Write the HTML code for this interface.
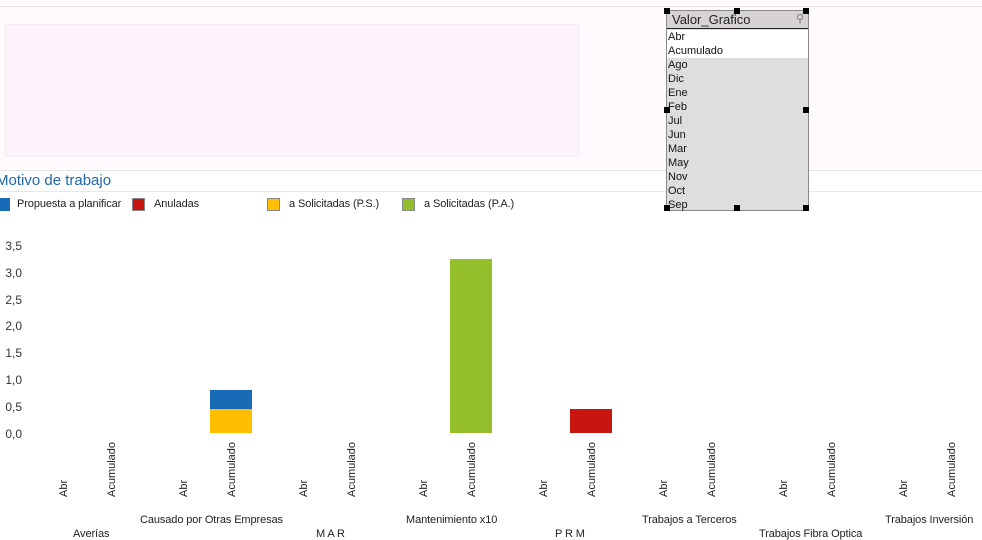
<!DOCTYPE html>
<html><head><meta charset="utf-8"><style>
body{margin:0;width:982px;height:537px;overflow:hidden;background:#fff;font-family:"Liberation Sans",Arial,sans-serif;position:relative}
.a{position:absolute}
.t{font-size:11px;color:#222;white-space:nowrap;letter-spacing:-0.1px}
.yl{font-size:12px;color:#333;width:22px;text-align:right;left:0}
.rot{transform:rotate(-90deg);transform-origin:left top;font-size:11px;color:#222;white-space:nowrap}
.lb div{height:14px;line-height:14px;font-size:11px;padding-left:1px;color:#111}
.h{width:6px;height:6px;background:#000}
</style></head><body>
<div class="a" style="left:0;top:0;width:982px;height:170px;background:#fffafd"></div>
<div class="a" style="left:0;top:6px;width:982px;height:1px;background:#e8e4e8"></div>
<div class="a" style="left:5px;top:24px;width:572px;height:131px;background:#fdf3fb;border:1px solid #f6eaf4"></div>
<div class="a" style="left:0;top:170px;width:982px;height:1px;background:#e4e4e4"></div>
<div class="a" style="left:0;top:191px;width:982px;height:1px;background:#e8e8e8"></div>
<div class="a" style="left:-4px;top:172px;font-size:15px;color:#1f66a8">Motivo de trabajo</div>
<div class="a" style="left:0;top:198px;width:10px;height:13px;background:#1a6bb5"></div>
<div class="a t" style="left:17px;top:198px">Propuesta a planificar</div>
<div class="a" style="left:132px;top:198px;width:13px;height:13px;background:#c8150f;box-sizing:border-box;border:1px solid #888"></div>
<div class="a t" style="left:154px;top:198px">Anuladas</div>
<div class="a" style="left:267px;top:198px;width:13px;height:13px;background:#ffbf00;box-sizing:border-box;border:1px solid #888"></div>
<div class="a t" style="left:289px;top:198px">a Solicitadas (P.S.)</div>
<div class="a" style="left:402px;top:198px;width:13px;height:13px;background:#94bf2a;box-sizing:border-box;border:1px solid #888"></div>
<div class="a t" style="left:424px;top:198px">a Solicitadas (P.A.)</div>

<div class="a yl" style="top:239px">3,5</div>
<div class="a yl" style="top:266px">3,0</div>
<div class="a yl" style="top:293px">2,5</div>
<div class="a yl" style="top:319px">2,0</div>
<div class="a yl" style="top:346px">1,5</div>
<div class="a yl" style="top:373px">1,0</div>
<div class="a yl" style="top:400px">0,5</div>
<div class="a yl" style="top:427px">0,0</div>

<div class="a" style="left:210px;top:390px;width:42px;height:19px;background:#1a6bb5"></div>
<div class="a" style="left:210px;top:409px;width:42px;height:24px;background:#ffbf00"></div>
<div class="a" style="left:450px;top:259px;width:42px;height:174px;background:#94bf2a"></div>
<div class="a" style="left:570px;top:409px;width:42px;height:24px;background:#c8150f"></div>

<div class="a rot" style="left:58px;top:497px">Abr</div><div class="a rot" style="left:106px;top:497px">Acumulado</div>
<div class="a rot" style="left:178px;top:497px">Abr</div><div class="a rot" style="left:226px;top:497px">Acumulado</div>
<div class="a rot" style="left:298px;top:497px">Abr</div><div class="a rot" style="left:346px;top:497px">Acumulado</div>
<div class="a rot" style="left:418px;top:497px">Abr</div><div class="a rot" style="left:466px;top:497px">Acumulado</div>
<div class="a rot" style="left:538px;top:497px">Abr</div><div class="a rot" style="left:586px;top:497px">Acumulado</div>
<div class="a rot" style="left:658px;top:497px">Abr</div><div class="a rot" style="left:706px;top:497px">Acumulado</div>
<div class="a rot" style="left:778px;top:497px">Abr</div><div class="a rot" style="left:826px;top:497px">Acumulado</div>
<div class="a rot" style="left:898px;top:497px">Abr</div><div class="a rot" style="left:946px;top:497px">Acumulado</div>

<div class="a t" style="left:73px;top:528px">Averías</div>
<div class="a t" style="left:140px;top:514px">Causado por Otras Empresas</div>
<div class="a t" style="left:316px;top:528px">M A R</div>
<div class="a t" style="left:406px;top:514px">Mantenimiento x10</div>
<div class="a t" style="left:555px;top:528px">P R M</div>
<div class="a t" style="left:642px;top:514px">Trabajos a Terceros</div>
<div class="a t" style="left:759px;top:528px">Trabajos Fibra Optica</div>
<div class="a t" style="left:885px;top:514px">Trabajos Inversión</div>

<div class="a" style="left:666px;top:10px;width:141px;height:199px;border:1px solid #888;background:#dedede">
<div style="height:17px;background:#d6d2d6;border-bottom:1px solid #222;font-size:13px;line-height:17px;padding-left:5px;color:#222">Valor_Grafico<span style="position:absolute;right:4px;top:0;font-size:11px;color:#777">⚲</span></div>
<div class="lb" style="padding-top:1px">
<div style="background:#fff">Abr</div><div style="background:#fff">Acumulado</div>
<div>Ago</div><div>Dic</div><div>Ene</div><div>Feb</div><div>Jul</div><div>Jun</div><div>Mar</div><div>May</div><div>Nov</div><div>Oct</div><div>Sep</div>
</div></div>
<div class="a h" style="left:664px;top:8px"></div><div class="a h" style="left:734px;top:8px"></div><div class="a h" style="left:803px;top:8px"></div>
<div class="a h" style="left:664px;top:107px"></div><div class="a h" style="left:803px;top:107px"></div>
<div class="a h" style="left:664px;top:205px"></div><div class="a h" style="left:734px;top:205px"></div><div class="a h" style="left:803px;top:205px"></div>
</body></html>
